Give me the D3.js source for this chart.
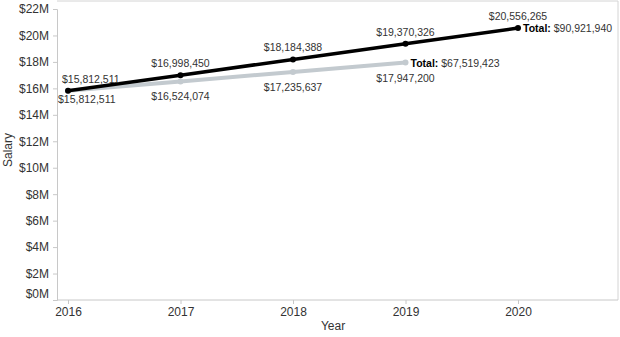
<!DOCTYPE html>
<html>
<head>
<meta charset="utf-8">
<script src="https://cdn.jsdelivr.net/npm/d3@7"></script>
<style>
  body { margin: 0; background: #fff; }
  text { font-family: "Liberation Sans", Arial, sans-serif; fill: #333; }
</style>
</head>
<body>
<svg id="chart" width="620" height="337"></svg>
<script>
const years = [2016, 2017, 2018, 2019, 2020];
const topSeries = [15812511, 16998450, 18184388, 19370326, 20556265];
const bottomYears = [2016, 2017, 2018, 2019];
const bottomSeries = [15812511, 16524074, 17235637, 17947200];
const seriesTotals = [90921940, 67519423];
const yTicks = [0, 2, 4, 6, 8, 10, 12, 14, 16, 18, 20, 22];

const paneLeft = 57;
const paneRight = 618;
const paneTop = 1;
const paneBottom = 300;

const svg = d3.select("#chart");
const fmt = d3.format("$,");

const x = d3.scaleLinear().domain([2016, 2020]).range([68, 518]);
const y = d3.scaleLinear().domain([0, 22e6]).range([paneBottom, 9]);

// pane border
svg.append("path")
  .attr("d", `M${paneLeft},${paneTop}H${paneRight}V${paneBottom}`)
  .attr("fill", "none")
  .attr("stroke", "#d4d4d4");

// y axis
const yAxis = svg.append("g")
  .attr("transform", `translate(${paneLeft},0)`)
  .call(d3.axisLeft(y)
    .tickValues(yTicks.map((d) => d * 1e6))
    .tickSize(4)
    .tickPadding(4)
    .tickFormat((d) => `$${d / 1e6}M`));
yAxis.select(".domain").attr("stroke", "#c8c8c8");
yAxis.selectAll(".tick line").attr("stroke", "#c8c8c8");
yAxis.selectAll(".tick text").attr("font-size", 12).attr("fill", "#333")
  .attr("font-family", "Liberation Sans, Arial, sans-serif");
// keep the bottom label inside the pane
yAxis.selectAll(".tick").filter((d) => d === 0)
  .select("text").attr("dy", "-0.2em");

// x axis
const xAxis = svg.append("g")
  .attr("transform", `translate(0,${paneBottom})`)
  .call(d3.axisBottom(x)
    .tickValues(years)
    .tickSize(4)
    .tickPadding(3)
    .tickFormat(d3.format("d")));
xAxis.select(".domain").attr("d", `M${paneLeft},0H${paneRight}`).attr("stroke", "#c8c8c8");
xAxis.selectAll(".tick line").attr("stroke", "#c8c8c8");
xAxis.selectAll(".tick text").attr("font-size", 12).attr("fill", "#333")
  .attr("font-family", "Liberation Sans, Arial, sans-serif");

// axis titles
svg.append("text")
  .attr("x", 333).attr("y", 330)
  .attr("text-anchor", "middle")
  .attr("font-size", 12)
  .text("Year");

svg.append("text")
  .attr("transform", "translate(12,150) rotate(-90)")
  .attr("text-anchor", "middle")
  .attr("font-size", 12)
  .text("Salary");

const line = d3.line().x((d) => x(d[0])).y((d) => y(d[1]));

const bottomData = bottomYears.map((d, i) => [d, bottomSeries[i]]);
const topData = years.map((d, i) => [d, topSeries[i]]);

// gray series
svg.append("path")
  .datum(bottomData)
  .attr("d", line)
  .attr("fill", "none")
  .attr("stroke", "#c3cacf")
  .attr("stroke-width", 4);
svg.selectAll(".pt-b")
  .data(bottomData)
  .enter()
  .append("circle")
  .attr("class", "pt-b")
  .attr("cx", (d) => x(d[0]))
  .attr("cy", (d) => y(d[1]))
  .attr("r", 3)
  .attr("fill", "#c3cacf");

// black series
svg.append("path")
  .datum(topData)
  .attr("d", line)
  .attr("fill", "none")
  .attr("stroke", "#000")
  .attr("stroke-width", 3.5);
svg.selectAll(".pt-t")
  .data(topData)
  .enter()
  .append("circle")
  .attr("class", "pt-t")
  .attr("cx", (d) => x(d[0]))
  .attr("cy", (d) => y(d[1]))
  .attr("r", 3)
  .attr("fill", "#000");

// labels
svg.selectAll(".lbl-t")
  .data(topData)
  .enter()
  .append("text")
  .attr("class", "lbl-t")
  .attr("x", (d, i) => (i === 0 ? x(d[0]) - 6 : x(d[0])))
  .attr("y", (d) => y(d[1]) - 8)
  .attr("text-anchor", (d, i) => (i === 0 ? "start" : "middle"))
  .attr("font-size", 10.5)
  .text((d) => fmt(d[1]));

svg.selectAll(".lbl-b")
  .data(bottomData)
  .enter()
  .append("text")
  .attr("class", "lbl-b")
  .attr("x", (d, i) => (i === 0 ? x(d[0]) - 10 : x(d[0])))
  .attr("y", (d, i) => y(d[1]) + (i === 0 ? 12 : 19))
  .attr("text-anchor", (d, i) => (i === 0 ? "start" : "middle"))
  .attr("font-size", 10.5)
  .text((d) => fmt(d[1]));

// totals
const totals = [
  [topData[topData.length - 1], seriesTotals[0]],
  [bottomData[bottomData.length - 1], seriesTotals[1]],
];
totals.forEach(([pt, total]) => {
  const t = svg.append("text")
    .attr("x", x(pt[0]) + 5)
    .attr("y", y(pt[1]) + 4)
    .attr("font-size", 10.5);
  t.append("tspan").attr("font-weight", "bold").attr("fill", "#000").text("Total: ");
  t.append("tspan").text(fmt(total));
});
</script>
</body>
</html>
